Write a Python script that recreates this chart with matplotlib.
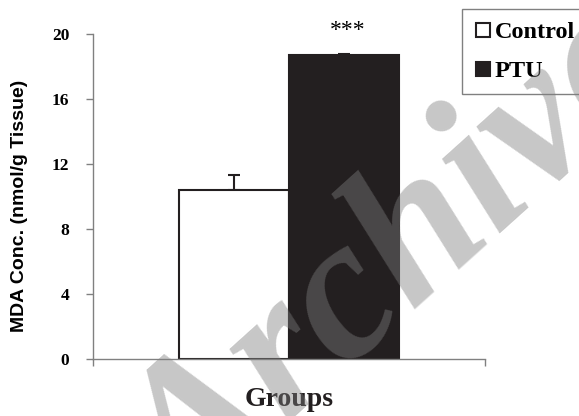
import matplotlib.pyplot as plt
from matplotlib.lines import Line2D

groups = ['Control', 'PTU']
mda = [10.4, 18.7]
sem = [0.95, 0.1]
bar_colors = ['white', '#231f20']
yticks = [0, 4, 8, 12, 16, 20]

fig = plt.figure(figsize=(5.79, 4.16), dpi=100)
ax = fig.add_axes([93/579, 1-359/416, (485-93)/579, (359-34)/416])

pos = [0.5 - 0.14, 0.5 + 0.14]
ax.bar(pos, mda, width=0.28, color=bar_colors, edgecolor='#231f20', linewidth=1.5, zorder=2)
ax.errorbar(pos, mda, yerr=[[0, 0], sem], fmt='none', ecolor='#231f20',
            elinewidth=1.5, capsize=4, capthick=1.5, zorder=1)

ax.set_xlim(0, 1)
ax.set_ylim(0, 20)
ax.set_yticks(yticks)
ax.set_yticklabels([str(v) for v in yticks], family='Liberation Serif', fontweight='bold', fontsize=12.5)
ax.set_xticks([0, 1])
ax.set_xticklabels(['', ''])
ax.tick_params(axis='both', color='#808080', length=5, width=1, direction='out')
ax.tick_params(axis='y', pad=12)
for s in ['top', 'right']:
    ax.spines[s].set_visible(False)
for s in ['left', 'bottom']:
    ax.spines[s].set_color('#808080')
    ax.spines[s].set_linewidth(1)

ax.set_ylabel('MDA Conc. (nmol/g Tissue)', family='Liberation Sans', fontweight='bold', fontsize=14)
ax.yaxis.set_label_coords(-0.165, 0.47)
fig.text(289/579, 1-400/416, 'Groups', family='Liberation Serif', fontweight='bold',
         fontsize=20, ha='center', va='center', color='#231f20')
ax.text(0.65, 20.2, '***', family='Liberation Serif', fontsize=17, ha='center', va='center')

handles = [Line2D([], [], marker='s', ls='none', markersize=10, markerfacecolor=c,
                  markeredgecolor='#231f20', markeredgewidth=1.5) for c in bar_colors]
leg = fig.legend(handles, groups, loc='upper left', bbox_to_anchor=(462/579, 1-9/416),
                 borderaxespad=0,
                 prop={'family': 'Liberation Serif', 'weight': 'bold', 'size': 17.5},
                 frameon=True, fancybox=False, edgecolor='#606060', handlelength=0.7,
                 handletextpad=0.15, labelspacing=0.7, borderpad=0.5)
leg.get_frame().set_linewidth(1)

# watermark
fig.text(399/579, 1-267/416, 'Archive', family='Liberation Serif', style='italic', fontweight='bold',
         fontsize=146, rotation=42, color='#7e7e7e', alpha=0.43, ha='center', va='center', zorder=10)

fig.savefig('out.png', dpi=100)
